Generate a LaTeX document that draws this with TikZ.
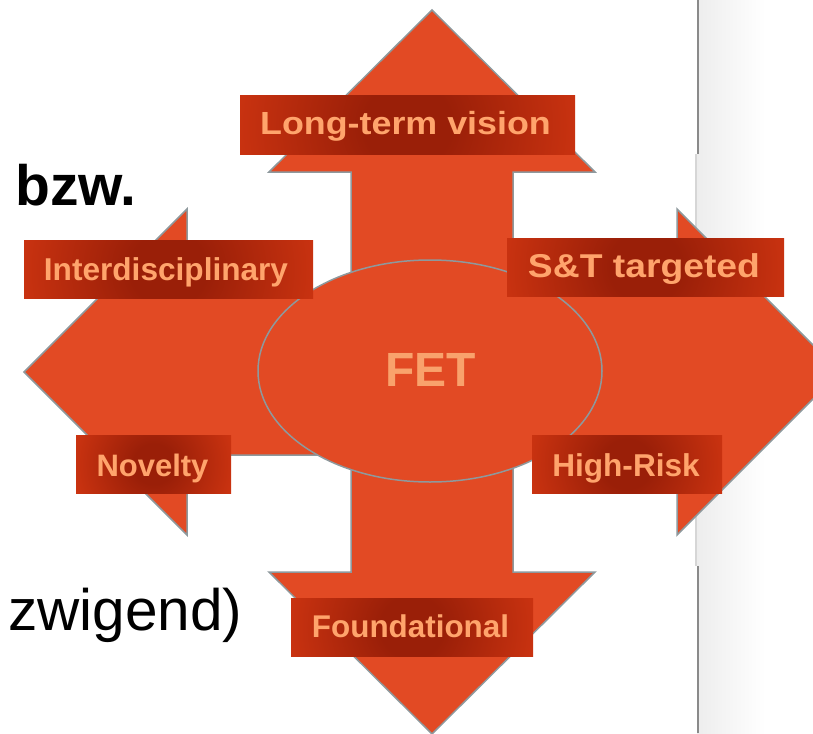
\documentclass[tikz,border=0pt]{standalone}
\usepackage{fontspec}
\usepackage{graphicx}
\usetikzlibrary{shapes.geometric}
\newfontfamily\lsans{Liberation Sans}
\definecolor{arrowfill}{HTML}{E24A24}
\definecolor{edgegray}{HTML}{8E999D}
\definecolor{glowdk}{HTML}{9A1F08}
\definecolor{glowbr}{HTML}{EA4016}
\definecolor{labeltext}{HTML}{FFA46C}
\definecolor{fettext}{HTML}{F9A26C}
\definecolor{darkline}{HTML}{8A8A8A}
\definecolor{lightline}{HTML}{D6D6D6}
\definecolor{panelgray}{HTML}{EDEDED}
\pgfdeclareradialshading{boxglow}{\pgfpoint{0bp}{0bp}}{color(0bp)=(glowdk); color(5bp)=(glowdk); color(30bp)=(glowbr); color(50bp)=(glowbr)}
\tikzset{
  labelbox/.style={rectangle, inner sep=0pt, draw=none,
    path picture={\shade[shading=boxglow] (path picture bounding box.center) circle (#1);}},
  lbltext/.style={inner sep=0pt, anchor=base, text=labeltext},
  arrowshape/.style={fill=arrowfill, draw=edgegray, line width=1.5pt, line join=miter},
}
\begin{document}
\begin{tikzpicture}[x=1pt, y=-1pt]
\useasboundingbox (0,0) rectangle (813,733);
\clip (0,0) rectangle (813,733);
\fill[white] (0,0) rectangle (813,733);
% right panel
\shade[left color=panelgray, right color=white] (697,0) rectangle (765,733);
\draw[darkline, line width=2pt] (698,0) -- (698,154);
\draw[darkline, line width=2pt] (698,566) -- (698,733);
\draw[lightline, line width=2pt] (696,154) -- (696,566);
% four-way arrow
\draw[arrowshape] (432,10) -- (595,172) -- (513,172) -- (513,291) -- (677,291) -- (677,209)
  -- (840,372) -- (677,535) -- (677,455) -- (513,455) -- (513,572) -- (595,572)
  -- (432,734) -- (269,572) -- (351,572) -- (351,455) -- (187,455) -- (187,535)
  -- (24,372) -- (187,209) -- (187,291) -- (351,291) -- (351,172) -- (269,172) -- cycle;
% central ellipse
\node[ellipse, fill=arrowfill, draw=edgegray, line width=1.5pt, inner sep=0pt,
      minimum width=344pt, minimum height=222pt] (core) at (430,371) {};
\node[inner sep=0pt, anchor=base, text=fettext, font={\lsans\bfseries\fontsize{48}{52}\selectfont}] (fet) at (430.5,386) {FET};
% label boxes
\node[labelbox=217pt, minimum width=335pt, minimum height=58pt] (lt) at (407.5,125) {};
\node[lbltext, font={\lsans\bfseries\fontsize{32}{36}\selectfont}] (lt-t) at (405.5,135) {\scalebox{1.12}[1]{Long-term vision}};
\node[labelbox=188pt, minimum width=289pt, minimum height=58pt] (id) at (168.5,269) {};
\node[lbltext, font={\lsans\bfseries\fontsize{31.6}{36}\selectfont}] (id-t) at (166,280) {Interdisciplinary};
\node[labelbox=101pt, minimum width=155pt, minimum height=58pt] (nv) at (153.5,464) {};
\node[lbltext, font={\lsans\bfseries\fontsize{31}{36}\selectfont}] (nv-t) at (152.5,476) {Novelty};
\node[labelbox=180pt, minimum width=277pt, minimum height=58pt] (st) at (645.5,267) {};
\node[lbltext, font={\lsans\bfseries\fontsize{33}{36}\selectfont}] (st-t) at (644,277) {\scalebox{1.13}[1]{S\&T targeted}};
\node[labelbox=124pt, minimum width=190pt, minimum height=58pt] (hr) at (627,464) {};
\node[lbltext, font={\lsans\bfseries\fontsize{31.6}{36}\selectfont}] (hr-t) at (626,476) {High-Risk};
\node[labelbox=157pt, minimum width=242pt, minimum height=58pt] (fd) at (412,627) {};
\node[lbltext, font={\lsans\bfseries\fontsize{31.4}{36}\selectfont}] (fd-t) at (410.5,637) {Foundational};
% stray slide text
\node[inner sep=0pt, anchor=base west, font={\lsans\bfseries\fontsize{57}{62}\selectfont}] (bzw) at (15,205) {bzw.};
\node[inner sep=0pt, anchor=base west, font={\lsans\fontsize{58.5}{64}\selectfont}] (zw) at (8,630) {zwigend)};
\end{tikzpicture}
\end{document}
